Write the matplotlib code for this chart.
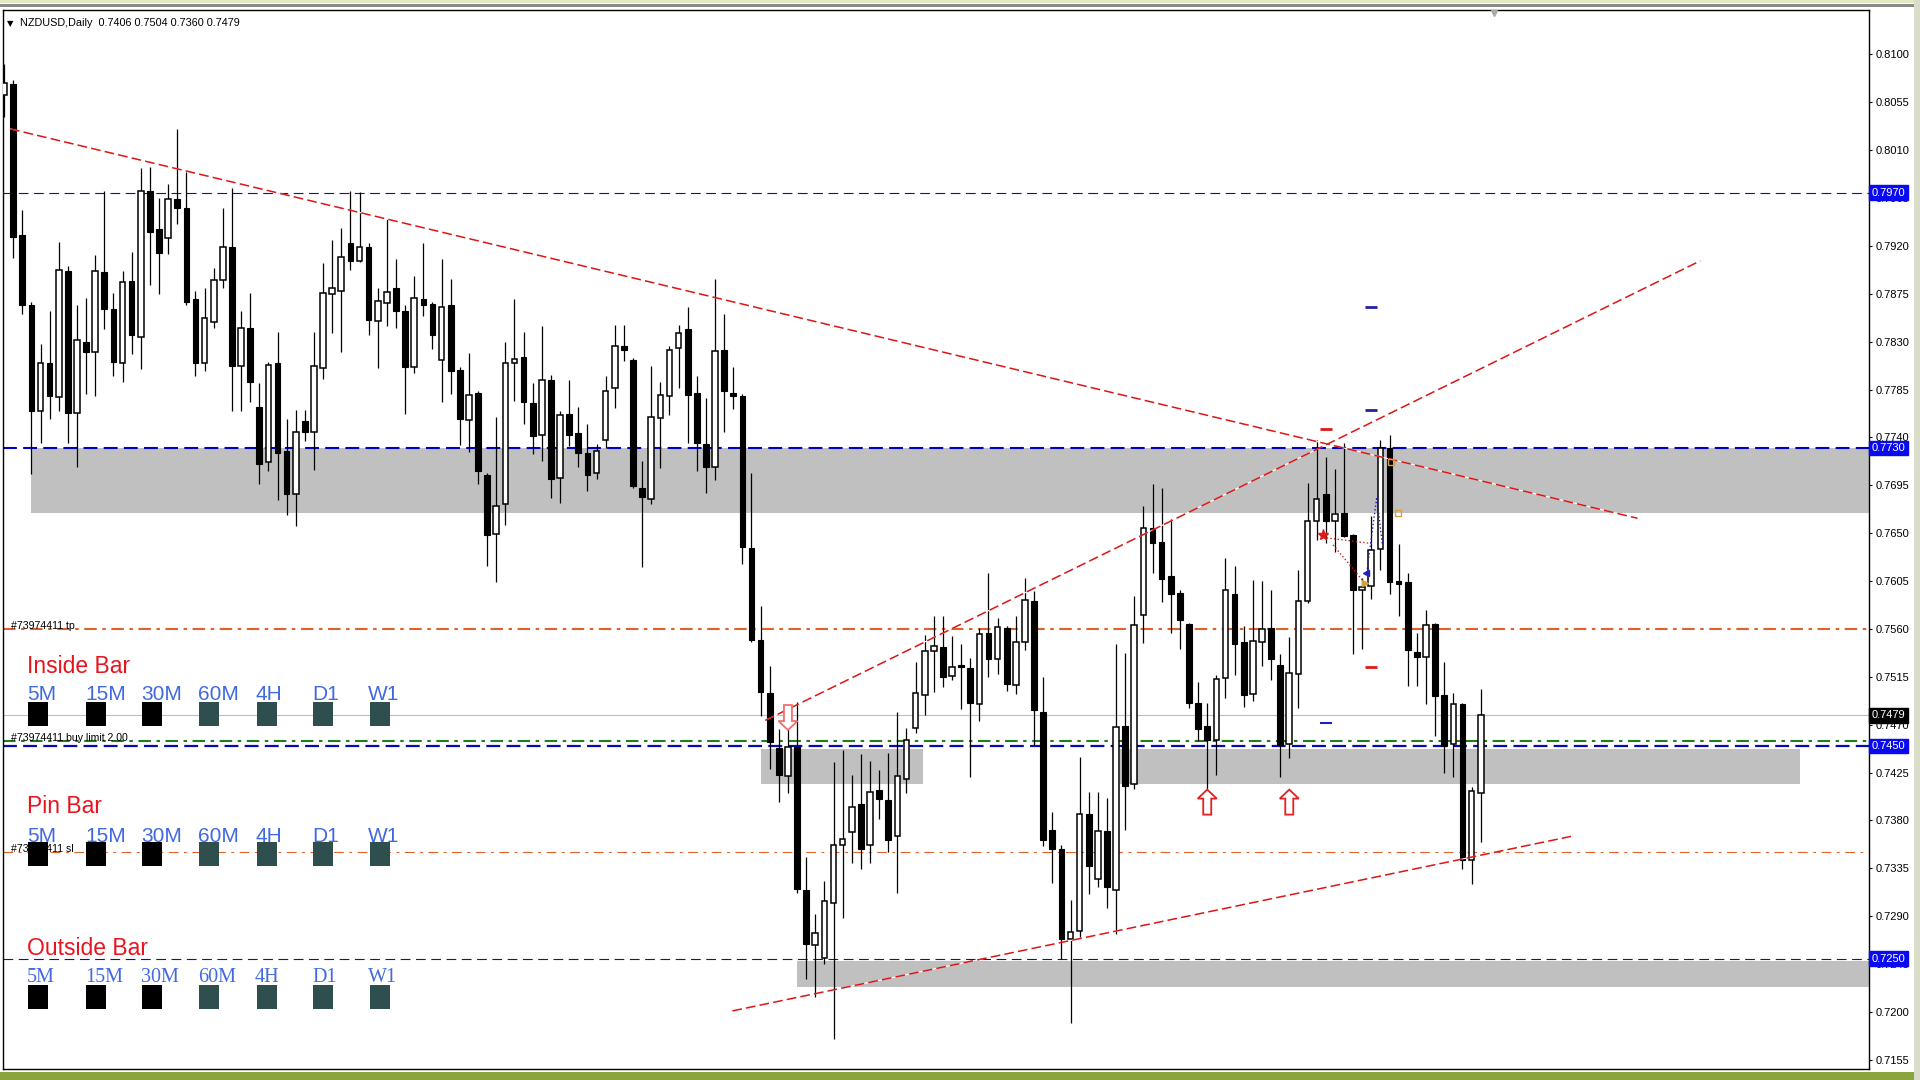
import matplotlib
matplotlib.use("Agg")
import numpy as np
import matplotlib.pyplot as plt
from matplotlib.patches import Polygon, Rectangle
from matplotlib.transforms import blended_transform_factory

plt.rcParams["lines.scale_dashes"] = False
plt.rcParams["font.family"] = ["Liberation Sans", "DejaVu Sans"]

# NZDUSD daily candles, oldest first
opens = [
    .8062, .8072, .7930, .7864, .7765, .7810, .7778, .7896, .7763, .7830,
    .7820, .7895, .7861, .7810, .7887, .7834, .7972, .7936, .7927, .7964,
    .7956, .7870, .7810, .7848, .7888, .7919, .7807, .7843, .7769, .7717,
    .7810, .7727, .7687, .7755, .7745, .7805, .7875, .7878, .7923, .7906,
    .7919, .7849, .7866, .7880, .7859, .7806, .7870, .7865, .7813, .7864,
    .7803, .7756, .7782, .7705, .7649, .7677, .7810, .7816, .7772, .7742,
    .7794, .7702, .7762, .7744, .7725, .7707, .7738, .7786, .7826, .7813,
    .7692, .7682, .7758, .7779, .7824, .7842, .7782, .7734, .7712, .7822,
    .7782, .7779, .7636, .7550, .7500, .7448, .7422, .7449, .7315, .7263,
    .7251, .7302, .7357, .7369, .7395, .7357, .7409, .7399, .7365, .7419,
    .7467, .7498, .7539, .7543, .7516, .7526, .7523, .7489, .7556, .7532,
    .7561, .7507, .7548, .7586, .7482, .7371, .7353, .7269, .7276, .7386,
    .7325, .7370, .7315, .7469, .7414, .7573, .7655, .7642, .7610, .7594,
    .7565, .7490, .7469, .7456, .7514, .7593, .7548, .7499, .7548, .7561,
    .7526, .7452, .7518, .7586, .7661, .7687, .7661, .7669, .7648, .7597,
    .7600, .7635, .7730, .7605, .7604, .7538, .7534, .7565, .7498, .7452,
    .7489, .7343, .7406,
]
highs = [
    .8091, .8076, .7954, .7867, .7828, .7859, .7924, .7901, .7864, .7871,
    .7911, .7972, .7876, .7896, .7914, .7993, .7994, .7965, .7978, .8030,
    .7989, .7878, .7880, .7899, .7956, .7974, .7859, .7876, .7791, .7811,
    .7839, .7757, .7766, .7766, .7839, .7904, .7926, .7937, .7972, .7971,
    .7923, .7880, .7945, .7908, .7864, .7892, .7923, .7867, .7908, .7889,
    .7806, .7819, .7784, .7707, .7759, .7830, .7870, .7839, .7791, .7845,
    .7799, .7765, .7794, .7769, .7753, .7734, .7798, .7846, .7846, .7815,
    .7718, .7807, .7792, .7826, .7846, .7863, .7798, .7777, .7889, .7856,
    .7806, .7781, .7707, .7582, .7525, .7466, .7474, .7491, .7346, .7292,
    .7323, .7435, .7446, .7423, .7442, .7436, .7427, .7443, .7482, .7467,
    .7529, .7554, .7572, .7572, .7553, .7546, .7533, .7561, .7613, .7570,
    .7563, .7572, .7608, .7596, .7515, .7388, .7357, .7305, .7440, .7407,
    .7407, .7401, .7546, .7537, .7591, .7676, .7696, .7692, .7663, .7597,
    .7566, .7510, .7490, .7517, .7627, .7619, .7563, .7606, .7605, .7597,
    .7536, .7552, .7615, .7697, .7738, .7722, .7710, .7735, .7649, .7608,
    .7666, .7738, .7742, .7640, .7613, .7556, .7578, .7566, .7529, .7500,
    .7490, .7411, .7504,
]
lows = [
    .8041, .7909, .7856, .7706, .7735, .7757, .7765, .7735, .7712, .7781,
    .7779, .7842, .7798, .7792, .7818, .7804, .7883, .7875, .7912, .7941,
    .7864, .7798, .7802, .7843, .7880, .7765, .7765, .7773, .7696, .7708,
    .7681, .7667, .7657, .7737, .7709, .7795, .7838, .7820, .7897, .7905,
    .7836, .7805, .7845, .7843, .7762, .7801, .7854, .7823, .7773, .7781,
    .7733, .7726, .7696, .7619, .7604, .7658, .7774, .7753, .7724, .7718,
    .7683, .7678, .7732, .7712, .7690, .7701, .7730, .7768, .7812, .7692,
    .7618, .7677, .7711, .7761, .7786, .7735, .7708, .7688, .7700, .7745,
    .7767, .7621, .7548, .7478, .7428, .7397, .7406, .7312, .7231, .7214,
    .7245, .7175, .7288, .7340, .7334, .7340, .7381, .7350, .7312, .7406,
    .7462, .7479, .7501, .7505, .7512, .7485, .7421, .7473, .7515, .7518,
    .7502, .7499, .7540, .7451, .7356, .7321, .7250, .7190, .7270, .7311,
    .7317, .7298, .7273, .7371, .7410, .7547, .7613, .7585, .7556, .7541,
    .7486, .7455, .7410, .7423, .7495, .7517, .7487, .7492, .7525, .7512,
    .7421, .7439, .7486, .7584, .7644, .7641, .7632, .7646, .7536, .7541,
    .7588, .7615, .7593, .7572, .7506, .7506, .7489, .7459, .7425, .7421,
    .7334, .7320, .7360,
]
closes = [
    .8073, .7928, .7864, .7765, .7810, .7779, .7897, .7763, .7832, .7820,
    .7896, .7861, .7811, .7886, .7836, .7972, .7933, .7913, .7964, .7956,
    .7867, .7810, .7852, .7888, .7919, .7807, .7843, .7792, .7715, .7808,
    .7725, .7687, .7745, .7745, .7807, .7876, .7880, .7910, .7906, .7919,
    .7850, .7868, .7877, .7859, .7806, .7871, .7864, .7836, .7863, .7802,
    .7757, .7780, .7708, .7648, .7676, .7810, .7814, .7773, .7741, .7794,
    .7701, .7761, .7742, .7725, .7705, .7727, .7784, .7826, .7822, .7694,
    .7684, .7759, .7780, .7822, .7838, .7780, .7735, .7712, .7821, .7784,
    .7779, .7637, .7550, .7501, .7454, .7423, .7449, .7316, .7264, .7274,
    .7304, .7357, .7363, .7393, .7353, .7407, .7400, .7362, .7422, .7456,
    .7500, .7539, .7544, .7515, .7524, .7524, .7490, .7555, .7532, .7562,
    .7508, .7548, .7587, .7484, .7362, .7353, .7269, .7275, .7386, .7337,
    .7370, .7317, .7468, .7412, .7564, .7655, .7641, .7607, .7593, .7568,
    .7490, .7466, .7456, .7513, .7597, .7546, .7498, .7549, .7560, .7532,
    .7451, .7519, .7586, .7661, .7682, .7661, .7668, .7647, .7597, .7599,
    .7634, .7730, .7604, .7602, .7540, .7534, .7564, .7497, .7450, .7489,
    .7343, .7408, .7479,
]

symbol_title = "NZDUSD,Daily  0.7406 0.7504 0.7360 0.7479"
price_ticks = [0.8100, 0.8055, 0.8010, 0.7965, 0.7920, 0.7875, 0.7830, 0.7785,
               0.7740, 0.7695, 0.7650, 0.7605, 0.7560, 0.7515, 0.7470, 0.7425,
               0.7380, 0.7335, 0.7290, 0.7245, 0.7200, 0.7155]
price_tags = [0.7970, 0.7730, 0.7479, 0.7450, 0.7250]
tag_colors = ["#0a0af0", "#0a0af0", "#000000", "#0a0af0", "#0a0af0"]

# horizontal objects: level, colour, width (pt), dash pattern (pt)
h_levels = [0.7970, 0.7730, 0.7560, 0.7479, 0.7455, 0.7450, 0.7350, 0.7250]
h_colors = ["#10109a", "#0000c8", "#e2602c", "#bdbdbd", "#1f7f1f", "#0a0ab0", "#e2602c", "#10109a"]
h_widths = [0.8, 1.5, 1.5, 0.8, 1.5, 1.6, 0.8, 0.8]
h_dashes = [(7, 4), (10, 4.5), (9, 4, 2.5, 4), None, (9, 4, 2.5, 4), (10, 4.5), (7, 4, 2, 4), (7, 4)]

# supply/demand rectangles: first bar, last bar (None = right edge), low, high
zone_x0 = [3, 83, 122.4, 87]
zone_x1 = [None, 100.8, 197, None]
zone_lo = [0.7669, 0.7414, 0.7414, 0.7223]
zone_hi = [0.7730, 0.7447, 0.7447, 0.7248]

# trend lines: (bar, price) -> (bar, price)
trend_x0 = [0.66, 83.5, 79.9]
trend_y0 = [0.8030, 0.7474, 0.7201]
trend_x1 = [179.2, 186.1, 171.9]
trend_y1 = [0.7664, 0.7906, 0.7365]

# signal arrows (bar, tip price)
arrow_up_bars = [132, 141]
arrow_up_tip = [0.7409, 0.7409]
arrow_dn_bars = [86]
arrow_dn_tip = [0.7465]

pattern_names = ["Inside Bar", "Pin Bar", "Outside Bar"]
timeframes = ["5M", "15M", "30M", "60M", "4H", "D1", "W1"]
square_colors = ["#000000", "#000000", "#000000", "#2f4f4f", "#2f4f4f", "#2f4f4f", "#2f4f4f"]
order_labels = ["#73974411 tp", "#73974411 buy limit 2.00", "#73974411 sl"]

W, H = 1920, 1080
AX_L, AX_R, AX_T, AX_B = 2.5, 1869, 10, 1069
XMIN, XMAX = -0.17, 204.6
YMIN, YMAX = 0.71464, 0.81417

fig = plt.figure(figsize=(W / 100, H / 100), dpi=100, facecolor="white")
ax = fig.add_axes([AX_L / W, 1 - AX_B / H, (AX_R - AX_L) / W, (AX_B - AX_T) / H])
ax.set_xlim(XMIN, XMAX)
ax.set_ylim(YMIN, YMAX)
ax.set_facecolor("white")
for s in ax.spines.values():
    s.set_color("black")
    s.set_linewidth(1.0)
ax.set_xticks([])

# data units per screen pixel
DX = (XMAX - XMIN) / (AX_R - AX_L)
DY = (YMAX - YMIN) / (AX_B - AX_T)

# zones
for x0, x1, lo, hi in zip(zone_x0, zone_x1, zone_lo, zone_hi):
    x1 = XMAX if x1 is None else x1
    ax.add_patch(Rectangle((x0, lo), x1 - x0, hi - lo, facecolor="#c0c0c0",
                           edgecolor="none", zorder=1))

# horizontal lines
for lvl, col, lw, ds in zip(h_levels, h_colors, h_widths, h_dashes):
    if ds is None:
        ax.axhline(lvl, color=col, lw=lw, zorder=2)
    else:
        ax.axhline(lvl, color=col, lw=lw, dashes=ds, zorder=2)

# candles
x = np.arange(len(opens))
o, h, l, c = (np.array(v) for v in (opens, highs, lows, closes))
up = c >= o
ax.vlines(x, l, h, color="black", lw=0.9, zorder=3)
body_lo = np.minimum(o, c)
body_h = np.maximum(np.abs(c - o), 0.00006)
ax.bar(x[up], body_h[up], bottom=body_lo[up], width=0.62, facecolor="white",
       edgecolor="black", linewidth=1.1, zorder=4)
ax.bar(x[~up], body_h[~up], bottom=body_lo[~up], width=0.62, facecolor="black",
       edgecolor="black", linewidth=0.8, zorder=4)

# trend lines (gaps show white over the grey zones)
for xa, ya, xb, yb in zip(trend_x0, trend_y0, trend_x1, trend_y1):
    ax.plot([xa, xb], [ya, yb], color="white", lw=0.8, zorder=5)
    ax.plot([xa, xb], [ya, yb], color="#dd1515", lw=1.1, dashes=(7, 3), zorder=5)


def block_arrow(xc, ytip, pointing_up, color):
    shape = [(0, 0), (9.5, -9), (4, -9), (4, -25), (-4, -25), (-4, -9), (-9.5, -9)]
    sgn = 1 if pointing_up else -1
    pts = [(xc + px * DX, ytip + sgn * py * DY) for px, py in shape]
    ax.add_patch(Polygon(pts, closed=True, facecolor="white", edgecolor=color,
                         linewidth=1.3, zorder=6))


for b, t in zip(arrow_up_bars, arrow_up_tip):
    block_arrow(b, t, True, "#e62020")
for b, t in zip(arrow_dn_bars, arrow_dn_tip):
    block_arrow(b, t, False, "#f07070")

# trade history marks around the double top
ax.plot([150, 150], [0.7863, 0.7766], ls="none", marker="_", ms=9, mew=2, color="#2020a0", zorder=6)
ax.plot([145, 150], [0.7748, 0.7524], ls="none", marker="_", ms=9, mew=2, color="#e01818", zorder=6)
ax.plot([145], [0.7472], ls="none", marker="_", ms=9, mew=1.5, color="#2020c0", zorder=6)
ax.plot([144.7, 150.3], [0.7646, 0.7640], color="#e01818", lw=1, ls=":", zorder=6)
ax.plot([145.8, 149.3], [0.7639, 0.7603], color="#e01818", lw=1, ls=":", zorder=6)
ax.plot([149.5, 150.6, 151.2], [0.7613, 0.7684, 0.7640], color="#2020c0", lw=1, ls=":", zorder=6)
ax.plot([144.7], [0.7648], marker="*", ms=8, color="#e01818", zorder=7)
ax.plot([149.3], [0.7603], marker=">", ms=5, color="#d4a040", zorder=7)
ax.plot([149.4], [0.7613], marker="<", ms=5, color="#2020c0", zorder=7)
ax.plot([152.2, 152.9], [0.7717, 0.7669], ls="none", marker="s", ms=4, mfc="none",
        mec="#d4a040", zorder=7)

# shift marker at the top
ax.plot([163.5], [0.8139], marker="v", ms=5, color="#a8a8a8", clip_on=False, zorder=7)

# price scale on the right
ax.yaxis.tick_right()
ax.set_yticks(price_ticks)
ax.set_yticklabels([f"{p:.4f}" for p in price_ticks])
ax.tick_params(axis="y", direction="out", length=2.5, width=0.8, pad=2,
               labelsize=8, colors="black")
trans = blended_transform_factory(ax.transAxes, ax.transData)
for p, col in zip(price_tags, tag_colors):
    ax.text(1.0014, p, f"{p:.4f}", transform=trans, ha="left", va="center",
            fontsize=8, color="white", zorder=10, clip_on=False,
            bbox=dict(boxstyle="square,pad=0.22", facecolor=col, edgecolor=col))


def ftext(px, py, s, **kw):
    fig.text(px / W, 1 - py / H, s, **kw)


# chart header
ftext(7, 26, "\u25bc", fontsize=6, color="black", family=["DejaVu Sans"])
ftext(20, 26, symbol_title, fontsize=7.8, color="black")

# order labels
for py, s in zip([629, 741, 852], order_labels):
    ftext(11, py, s, fontsize=7.6, color="black", zorder=8)

# pattern scanner panel
label_x = [27, 85, 141, 198, 255, 312, 368]
square_x = [28, 86, 142, 199, 257, 313, 370]
title_y = [673, 813, 955]
tf_y = [700, 842, 982]
sq_top = [702, 842, 985]
for r, name in enumerate(pattern_names):
    ftext(27, title_y[r], name, fontsize=16.5, color="#e8141e", zorder=9)
    fam = ["Liberation Serif", "DejaVu Serif"] if r == 2 else ["Liberation Sans", "DejaVu Sans"]
    fs = 14.5 if r == 2 else 15
    for tx, sx, tf, col in zip(label_x, square_x, timeframes, square_colors):
        ftext(tx, tf_y[r], tf, fontsize=fs, color="#4169e1", family=fam, zorder=9)
        fig.patches.append(Rectangle((sx / W, 1 - (sq_top[r] + 24) / H), 20 / W, 24 / H,
                                     transform=fig.transFigure, facecolor=col,
                                     edgecolor="none", zorder=9))

# window frame pieces
fig.patches.append(Rectangle((0, 1 - 3 / H), 1, 3 / H, transform=fig.transFigure,
                             facecolor="#e2eac4", edgecolor="none"))
fig.patches.append(Rectangle((0, 1 - 7 / H), 1, 3 / H, transform=fig.transFigure,
                             facecolor="#8a8a8a", edgecolor="none"))
fig.patches.append(Rectangle((0, 0), 1, 8 / H, transform=fig.transFigure,
                             facecolor="#8aa53c", edgecolor="none"))
fig.patches.append(Rectangle((1914 / W, 0), 6 / W, 1, transform=fig.transFigure,
                             facecolor="#d8dcc8", edgecolor="none"))

fig.savefig("out.png", dpi=100, facecolor=fig.get_facecolor())
